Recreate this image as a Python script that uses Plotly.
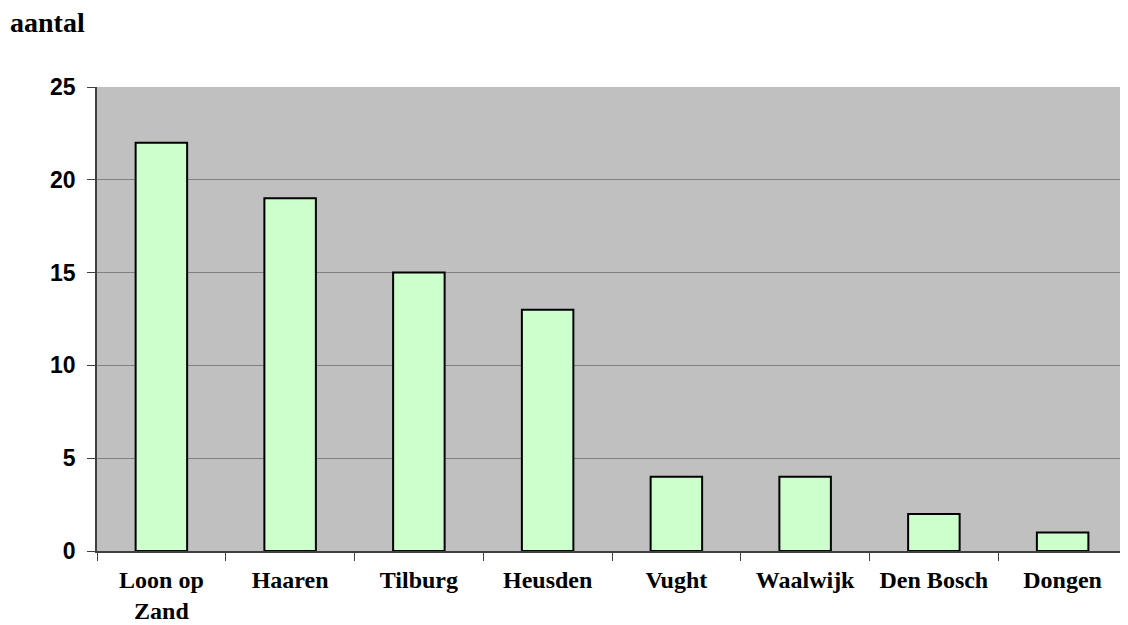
import plotly.graph_objects as go

categories = ["Loon op<br>Zand", "Haaren", "Tilburg", "Heusden", "Vught", "Waalwijk", "Den Bosch", "Dongen"]
values = [22, 19, 15, 13, 4, 4, 2, 1]
y_ticks = [0, 5, 10, 15, 20, 25]

# page body has an 8px offset; figure sized to fit viewport
W, H = 1120, 617
L, R, T, B = 89, 1, 79, 74
pw, ph = W - L - R, H - T - B

fig = go.Figure()
fig.add_trace(go.Bar(
    x=categories, y=values, width=0.4,
    marker=dict(color="#CCFFCC", line=dict(color="black", width=2)),
))

fig.update_layout(
    width=W, height=H,
    margin=dict(l=L, r=R, t=T, b=B, autoexpand=False),
    paper_bgcolor="white", plot_bgcolor="#C0C0C0",
    showlegend=False,
    annotations=[dict(
        text="aantal", xref="paper", yref="paper",
        x=(0 - L) / pw, y=1 + (T - 14) / ph,
        xanchor="left", yanchor="middle", showarrow=False,
        font=dict(family="Liberation Serif", size=28, color="black", weight="bold"),
    )],
)

fig.update_xaxes(
    type="category", tickson="boundaries", ticks="outside", ticklen=8,
    tickcolor="#404040", tickwidth=1, automargin=False,
    showline=True, linecolor="#404040", linewidth=1.5,
    showgrid=False, ticklabelstandoff=6,
    tickfont=dict(family="Liberation Serif", size=24, color="black", weight="bold"),
)
fig.update_yaxes(
    range=[0, 25], tickvals=y_ticks, ticks="outside", ticklen=8,
    tickcolor="#404040", tickwidth=1, automargin=False,
    showline=True, linecolor="#404040", linewidth=1.5,
    showgrid=True, gridcolor="#808080", gridwidth=1,
    zeroline=False, ticklabelstandoff=7,
    tickfont=dict(family="Liberation Sans", size=23, color="black", weight="bold"),
)

fig.write_html("out.html")
